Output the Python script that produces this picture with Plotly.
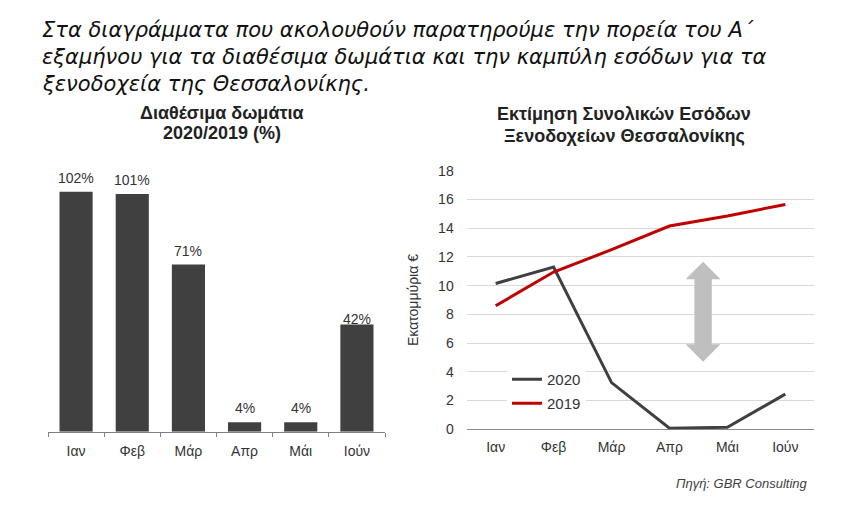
import plotly.graph_objects as go

# ---- data ----
months = ["Ιαν", "Φεβ", "Μάρ", "Απρ", "Μάι", "Ιούν"]
rooms_bar_heights = [102, 101, 71, 4, 4, 45.5]
rooms_labels = [102, 101, 71, 4, 4, 42]
revenue_2020 = [10.15, 11.3, 3.25, 0.07, 0.14, 2.45]
revenue_2019 = [8.6, 10.95, 12.5, 14.15, 14.85, 15.65]
y_ticks = [0, 2, 4, 6, 8, 10, 12, 14, 16, 18]

W, H = 843, 511
AX = "Liberation Sans, Arial, sans-serif"
TXT = "#404040"

fig = go.Figure()

# left: bar chart
fig.add_trace(go.Bar(
    x=months, y=rooms_bar_heights, width=0.59,
    marker=dict(color="#404040", line=dict(width=0)),
    xaxis="x", yaxis="y", showlegend=False, hoverinfo="skip",
))

# right: lines (2020 first for legend order)
fig.add_trace(go.Scatter(
    x=months, y=revenue_2020, mode="lines", name="2020", legendgroup="a",
    line=dict(color="#404040", width=3), xaxis="x2", yaxis="y2",
))
fig.add_trace(go.Scatter(
    x=months, y=revenue_2019, mode="lines", name="2019", legendgroup="b",
    line=dict(color="#C00000", width=3), xaxis="x2", yaxis="y2",
))

annotations = []
for m, v in zip(months, rooms_labels):
    annotations.append(dict(
        x=m, y=v, xref="x", yref="y", text=f"{v}%", showarrow=False,
        yanchor="bottom", yshift=4, font=dict(family=AX, size=14, color="#333333"),
    ))


def line_note(x, y, text, size, **kw):
    d = dict(x=x / W, y=1 - y / H, xref="paper", yref="paper", xanchor="center",
             yanchor="middle", text=text, showarrow=False,
             font=dict(family=AX, size=size, color="#222222"))
    d.update(kw)
    return d


# titles
annotations += [
    line_note(222, 113, "<b>Διαθέσιμα δωμάτια</b>", 18),
    line_note(222, 133, "<b>2020/2019 (%)</b>", 18),
    line_note(624, 114, "<b>Εκτίμηση Συνολικών Εσόδων</b>", 18),
    line_note(624, 136.5, "<b>Ξενοδοχείων Θεσσαλονίκης</b>", 18),
    dict(x=810 / W, y=1 - 483 / H, xref="paper", yref="paper", xanchor="right", yanchor="middle",
         text="<i>Πηγή: GBR Consulting</i>", showarrow=False,
         font=dict(family=AX, size=13, color="#404040")),
]

intro = [
    "Στα διαγράμματα που ακολουθούν παρατηρούμε την πορεία του Α΄",
    "εξαμήνου για τα διαθέσιμα δωμάτια και την καμπύλη εσόδων για τα",
    "ξενοδοχεία της Θεσσαλονίκης.",
]
for i, line in enumerate(intro):
    annotations.append(dict(
        x=40 / W, y=1 - (30 + 27 * i) / H, xref="paper", yref="paper",
        xanchor="left", yanchor="middle", text=f"<i>{line}</i>", showarrow=False,
        font=dict(family="DejaVu Sans, Verdana, sans-serif", size=21, color="#111111"),
    ))

# double-headed gray arrow (decoration) in data coordinates of right chart
cx, hw, sw = 3.58, 0.30, 0.15
yt, yhb, ybb, yb = 11.66, 10.44, 5.92, 4.70
arrow_path = (f"M {cx},{yt} L {cx+hw},{yhb} L {cx+sw},{yhb} L {cx+sw},{ybb} "
              f"L {cx+hw},{ybb} L {cx},{yb} L {cx-hw},{ybb} L {cx-sw},{ybb} "
              f"L {cx-sw},{yhb} L {cx-hw},{yhb} Z")

fig.update_layout(
    width=W, height=H,
    margin=dict(l=0, r=0, t=0, b=0, autoexpand=False),
    paper_bgcolor="white", plot_bgcolor="white",
    font=dict(family=AX, color=TXT),
    annotations=annotations,
    shapes=[dict(type="path", path=arrow_path, xref="x2", yref="y2",
                 fillcolor="#BFBFBF", line=dict(width=0), layer="above")],
    xaxis=dict(domain=[48 / W, 385 / W], type="category", range=[-0.5, 5.5],
               showline=True, linecolor="#808080", linewidth=1,
               ticks="outside", tickson="boundaries", ticklen=4, tickcolor="#808080",
               showgrid=False, tickfont=dict(family=AX, size=14, color="#333333"),
               ticklabelstandoff=6, automargin=False, fixedrange=True),
    yaxis=dict(domain=[1 - 431.7 / H, 1 - 170.7 / H], range=[0, 110.9],
               visible=False, automargin=False, fixedrange=True),
    xaxis2=dict(domain=[466.7 / W, 814.3 / W], type="category", range=[-0.5, 5.5],
                showline=False, ticks="", showgrid=False,
                tickfont=dict(family=AX, size=14, color="#333333"),
                ticklabelstandoff=8, anchor="y2", automargin=False, fixedrange=True),
    yaxis2=dict(domain=[1 - 429.3 / H, 1 - 170.7 / H], range=[0, 18], anchor="x2",
                tickvals=y_ticks, showgrid=True, gridcolor="#D9D9D9", gridwidth=1,
                zeroline=True, zerolinecolor="#8C8C8C", zerolinewidth=1,
                showline=False, ticks="", tickfont=dict(family=AX, size=14, color="#333333"),
                ticklabelstandoff=12, automargin=False,
                title=dict(text="Εκατομμύρια €", font=dict(family=AX, size=14, color="#333333"),
                           standoff=16),
                fixedrange=True),
    legend=dict(x=507 / W, y=1 - 363 / H, xanchor="left", yanchor="top",
                bgcolor="rgba(255,255,255,1)", borderwidth=0,
                font=dict(family=AX, size=15, color="#333333"),
                traceorder="grouped", tracegroupgap=1.5, itemwidth=30),
    showlegend=True,
)

fig.write_html("out.html", config={"displayModeBar": False},
               post_script="document.body.style.margin='0px';")
